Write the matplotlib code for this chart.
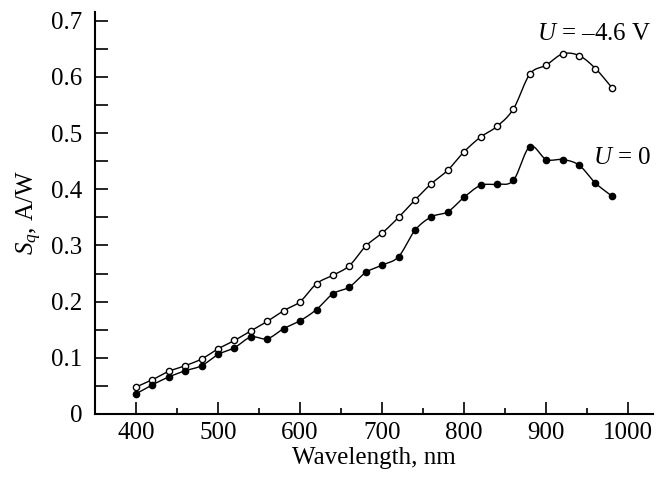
import numpy as np
import matplotlib
matplotlib.use('Agg')
import matplotlib.pyplot as plt
from matplotlib.ticker import MultipleLocator, FuncFormatter

# wavelength, nm
wavelength = [400, 420, 440, 460, 480, 500, 520, 540, 560, 580,
              600, 620, 640, 660, 680, 700, 720, 740, 760, 780,
              800, 820, 840, 860, 880, 900, 920, 940, 960, 980]
# U = -4.6 V (open circles)
s_bias = [0.048, 0.061, 0.076, 0.086, 0.098, 0.116, 0.131, 0.148, 0.165, 0.184,
          0.200, 0.232, 0.247, 0.264, 0.299, 0.322, 0.350, 0.381, 0.410, 0.434,
          0.467, 0.493, 0.512, 0.543, 0.605, 0.621, 0.641, 0.638, 0.615, 0.581]
# U = 0 (filled circles)
s_zero = [0.036, 0.052, 0.066, 0.077, 0.086, 0.106, 0.118, 0.137, 0.134, 0.152,
          0.166, 0.186, 0.214, 0.226, 0.252, 0.265, 0.280, 0.327, 0.351, 0.360,
          0.386, 0.407, 0.409, 0.416, 0.476, 0.453, 0.453, 0.443, 0.411, 0.388]


def smooth(x, y, n=12):
    # catmull-rom through the points
    x = np.asarray(x, float)
    y = np.asarray(y, float)
    yp = np.r_[2 * y[0] - y[1], y, 2 * y[-1] - y[-2]]
    t = np.linspace(0, 1, n, endpoint=False)
    xs, ys = [], []
    for i in range(len(x) - 1):
        p0, p1, p2, p3 = yp[i], yp[i + 1], yp[i + 2], yp[i + 3]
        seg = 0.5 * (2 * p1 + (-p0 + p2) * t + (2 * p0 - 5 * p1 + 4 * p2 - p3) * t ** 2
                     + (-p0 + 3 * p1 - 3 * p2 + p3) * t ** 3)
        xs.append(x[i] + (x[i + 1] - x[i]) * t)
        ys.append(seg)
    xs.append([x[-1]])
    ys.append([y[-1]])
    return np.concatenate(xs), np.concatenate(ys)


plt.rcParams['font.family'] = ['Liberation Serif', 'DejaVu Serif']
plt.rcParams['mathtext.fontset'] = 'custom'
plt.rcParams['mathtext.rm'] = 'Liberation Serif'
plt.rcParams['mathtext.it'] = 'Liberation Serif:italic'

fig = plt.figure(figsize=(6.71, 4.8), dpi=100)
ax = fig.add_axes([0.1416, 0.1375, 0.8314, 0.838])

for s, face in [(s_bias, 'white'), (s_zero, 'black')]:
    xs, ys = smooth(wavelength, s)
    ax.plot(xs, ys, color='black', lw=1.0, zorder=2)
    ax.plot(wavelength, s, ls='none', marker='o', ms=4.5, mfc=face,
            mec='black', mew=1.0, zorder=3)

ax.set_xlim(350, 1030)
ax.set_ylim(0, 0.716)
ax.spines['top'].set_visible(False)
ax.spines['right'].set_visible(False)
for sp in ['left', 'bottom']:
    ax.spines[sp].set_linewidth(1.5)

ax.xaxis.set_major_locator(MultipleLocator(100))
ax.xaxis.set_minor_locator(MultipleLocator(50))
ax.yaxis.set_major_locator(MultipleLocator(0.1))
ax.yaxis.set_minor_locator(MultipleLocator(0.05))
ax.yaxis.set_major_formatter(FuncFormatter(lambda v, p: '0' if abs(v) < 1e-9 else '%.1f' % v))
ax.tick_params(axis='both', which='both', direction='in', width=1.2, labelsize=18)
ax.tick_params(axis='x', which='major', length=9, pad=6)
ax.tick_params(axis='x', which='minor', length=4)
ax.tick_params(axis='y', which='both', length=9, pad=9)

ax.set_xlabel('Wavelength, nm', fontsize=18, labelpad=2)
ax.set_ylabel(r'$S_q$, A/W', fontsize=18, labelpad=5)

ax.text(1028, 0.676, r'$U$ = –4.6 V', fontsize=18, ha='right', va='center')
ax.text(1028, 0.455, r'$U$ = 0', fontsize=18, ha='right', va='center')

fig.savefig('out.png', dpi=100)
